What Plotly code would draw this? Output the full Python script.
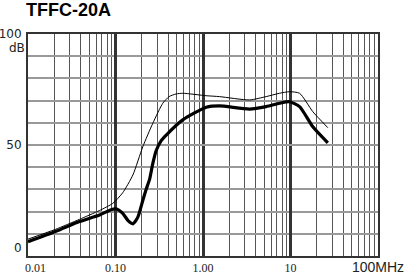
import plotly.graph_objects as go

# Data
freq_thick = [0.01, 0.0206, 0.0387, 0.0657, 0.085, 0.101, 0.121, 0.14, 0.158, 0.18, 0.205, 0.224, 0.245,
              0.267, 0.292, 0.333, 0.38, 0.587, 1.09, 1.54, 3.4, 5.27, 7.48, 9.7, 12.7, 18.0, 26.7]
db_thick = [6.4, 11.0, 15.5, 18.5, 20.5, 21.3, 19.2, 15.8, 14.5, 17.5, 25.0, 30.0, 34.5,
            41.7, 47.5, 52.0, 54.5, 61.3, 67.0, 67.6, 66.2, 67.3, 68.8, 69.5, 67.3, 58.2, 51.0]

freq_thin = [0.01, 0.0206, 0.0387, 0.0657, 0.093, 0.121, 0.158, 0.205, 0.267, 0.347, 0.41, 0.494, 0.587,
             1.09, 1.54, 3.4, 5.27, 7.48, 9.7, 12.7, 18.0, 26.7]
db_thin = [7.6, 12.0, 16.5, 20.5, 23.7, 28.5, 36.5, 49.2, 59.8, 68.8, 71.8, 73.0, 73.3,
           72.2, 71.8, 70.3, 71.8, 73.3, 74.0, 73.3, 65.0, 57.8]

title_text = "TFFC-20A"
x_major = [0.01, 0.1, 1, 10, 100]
x_major_text = ["&nbsp;&nbsp;&nbsp;&nbsp;&nbsp;0.01", "0.10", "1.00", "10",
                "<span style='font-family:Liberation Sans;font-size:14px'>100MHz</span>"]
x_minor = [m * d for d in [0.01, 0.1, 1, 10] for m in range(2, 10)]
y_ticks = [50, 100]
y_ticktext = ["50", "100"]
y_zero_label = "0"
y_grid = [10, 20, 30, 40, 60, 70, 80, 90]

fig = go.Figure()
fig.add_trace(go.Scatter(x=freq_thin, y=db_thin, mode="lines",
                         line=dict(color="black", width=1, shape="spline", smoothing=0.6)))
fig.add_trace(go.Scatter(x=freq_thick, y=db_thick, mode="lines",
                         line=dict(color="black", width=3.2, shape="spline", smoothing=0.6)))

fig.update_layout(
    width=405, height=277,
    margin=dict(l=28, r=27, t=34, b=21),
    paper_bgcolor="white", plot_bgcolor="white",
    showlegend=False,
    xaxis=dict(type="log", range=[-2, 2], tickvals=x_major, ticktext=x_major_text,
               automargin=False,
               showgrid=True, gridcolor="#333", gridwidth=2.5,
               minor=dict(tickvals=x_minor, showgrid=True, gridcolor="#555", gridwidth=1, ticks=""),
               showline=True, linecolor="#333", linewidth=2, mirror=True,
               ticks="", zeroline=False,
               tickfont=dict(family="Liberation Sans Narrow", size=12, color="#222")),
    yaxis=dict(range=[0, 100], tickvals=y_ticks, ticktext=y_ticktext,
               automargin=False,
               showgrid=True, gridcolor="#999", gridwidth=2,
               minor=dict(tickvals=y_grid, showgrid=True, gridcolor="#999", gridwidth=2, ticks=""),
               showline=True, linecolor="#333", linewidth=2, mirror=True,
               ticks="", zeroline=False, ticklabelstandoff=2,
               tickfont=dict(family="DejaVu Sans", size=12, color="#222")),
)
fig.add_annotation(text="<b>" + title_text + "</b>", xref="paper", yref="paper", x=0, y=1,
                   xanchor="left", yanchor="middle", showarrow=False, xshift=-4, yshift=24,
                   font=dict(family="Liberation Sans", size=18, color="black"))
fig.add_annotation(text="dB", xref="paper", yref="paper", x=0, y=0.935, xanchor="right",
                   yanchor="middle", showarrow=False, xshift=-1,
                   font=dict(family="DejaVu Sans", size=12, color="#222"))
fig.add_annotation(text=y_zero_label, xref="paper", yref="y", x=0, y=0, xanchor="right",
                   yanchor="bottom", showarrow=False, xshift=-4, yshift=-1,
                   font=dict(family="DejaVu Sans", size=12, color="#222"))

fig.write_html("out.html")
